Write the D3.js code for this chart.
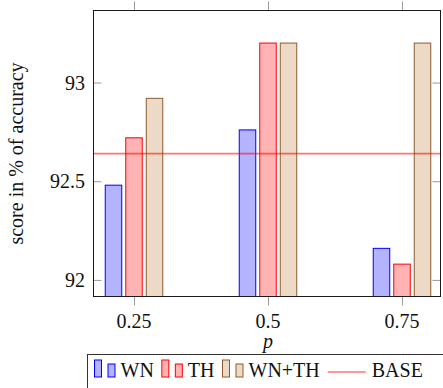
<!DOCTYPE html>
<html>
<head>
<meta charset="utf-8">
<script src="https://cdn.jsdelivr.net/npm/d3@7"></script>
<style>
  body { margin: 0; background: #fff; }
  svg text { font-family: "Liberation Serif", "DejaVu Serif", serif; }
</style>
</head>
<body>
<div id="main"></div>
<script>
// data
const pValues = ["0.25", "0.5", "0.75"];
const seriesNames = ["WN", "TH", "WN+TH"];
const wnScores = [92.48, 92.76, 92.16];
const thScores = [92.72, 93.2, 92.08];
const wnthScores = [92.92, 93.2, 93.2];
const baseScore = 92.64;
const yTicks = [92, 92.5, 93];
const yLimits = [91.916, 93.365];

const ctx = {
    width: 443,
    height: 388,
    plot: {left: 93.5, right: 440.5, top: 10.5, bottom: 296.5},
    inset: {left: 40.5, right: 38.5}
};

const serif = "'Liberation Serif', 'DejaVu Serif', serif";

const colors = {
    "WN":    {fill: "#b3b3ff", stroke: "#0000ff"},
    "TH":    {fill: "#ffb3b3", stroke: "#ff0000"},
    "WN+TH": {fill: "#ecd9c6", stroke: "#8c5a2e"}
};

const seriesValues = [wnScores, thScores, wnthScores];

function label(sel) {
    return sel.style("font-family", serif)
        .style("font-size", "20px")
        .style("fill", "#111");
}

function createViz() {
    const svg = d3.select("#main").append("svg")
        .attr("width", ctx.width)
        .attr("height", ctx.height);

    const p = ctx.plot;

    const x = d3.scalePoint()
        .domain(pValues)
        .range([p.left + ctx.inset.left, p.right - ctx.inset.right]);

    const xs = d3.scaleBand()
        .domain(seriesNames)
        .range([-30.75, 30.75])
        .paddingInner(0.195)
        .paddingOuter(0.0975);

    const y = d3.scaleLinear()
        .domain(yLimits)
        .range([p.bottom, p.top]);

    // bars
    const rows = [];
    seriesNames.forEach((s, i) => {
        pValues.forEach((pv, j) => {
            rows.push({series: s, p: pv, value: seriesValues[i][j]});
        });
    });

    svg.append("g").selectAll("rect")
        .data(rows)
        .enter()
        .append("rect")
        .attr("x", d => x(d.p) + xs(d.series))
        .attr("y", d => y(d.value))
        .attr("width", xs.bandwidth())
        .attr("height", d => p.bottom - y(d.value))
        .style("fill", d => colors[d.series].fill)
        .style("stroke", d => colors[d.series].stroke)
        .style("stroke-width", 1);

    // baseline
    svg.append("line")
        .attr("x1", p.left).attr("x2", p.right)
        .attr("y1", y(baseScore)).attr("y2", y(baseScore))
        .style("stroke", "#ff0000")
        .style("stroke-opacity", 0.55)
        .style("stroke-width", 1.8);

    // ticks
    const tickColor = "#9a9a9a";
    const gxb = svg.append("g")
        .attr("transform", `translate(0,${p.bottom})`)
        .call(d3.axisBottom(x).tickSize(9));
    const gxt = svg.append("g")
        .attr("transform", `translate(0,${p.top})`)
        .call(d3.axisTop(x).tickSize(9).tickFormat(""));
    const gyl = svg.append("g")
        .attr("transform", `translate(${p.left},0)`)
        .call(d3.axisRight(y).tickValues(yTicks).tickSize(8).tickFormat(""));
    const gyr = svg.append("g")
        .attr("transform", `translate(${p.right},0)`)
        .call(d3.axisLeft(y).tickValues(yTicks).tickSize(8).tickFormat(""));

    [gxb, gxt, gyl, gyr].forEach(g => {
        g.attr("font-family", null);
        g.select(".domain").remove();
        g.selectAll(".tick line").style("stroke", tickColor).style("stroke-width", 1);
        g.selectAll(".tick text").remove();
    });

    label(svg.append("g").selectAll("text")
        .data(pValues)
        .enter()
        .append("text")
        .attr("x", d => x(d))
        .attr("y", p.bottom + 31)
        .attr("text-anchor", "middle")
        .text(d => d));

    label(svg.append("g").selectAll("text")
        .data(yTicks)
        .enter()
        .append("text")
        .attr("x", 85)
        .attr("y", d => y(d) + 7)
        .attr("text-anchor", "end")
        .text(d => d));

    // frame
    svg.append("rect")
        .attr("x", p.left).attr("y", p.top)
        .attr("width", p.right - p.left)
        .attr("height", p.bottom - p.top)
        .style("fill", "none")
        .style("stroke", "#1a1a1a")
        .style("stroke-width", 1);

    // axis labels
    label(svg.append("text")
        .attr("x", x("0.5"))
        .attr("y", 348)
        .attr("text-anchor", "middle")
        .style("font-style", "italic")
        .text("p"));

    label(svg.append("text")
        .attr("transform", `translate(23,${(p.top + p.bottom) / 2}) rotate(-90)`)
        .attr("text-anchor", "middle")
        .text("score in % of accuracy"));

    // legend
    const lg = svg.append("g");
    lg.append("rect")
        .attr("x", 87.5).attr("y", 354.5)
        .attr("width", 400).attr("height", 60)
        .style("fill", "#fff")
        .style("stroke", "#333")
        .style("stroke-width", 1);

    let cx = 94.5;
    const base = 377;
    seriesNames.forEach(s => {
        lg.append("rect")
            .attr("x", cx).attr("y", base - 17)
            .attr("width", 7).attr("height", 17)
            .style("fill", colors[s].fill).style("stroke", colors[s].stroke);
        lg.append("rect")
            .attr("x", cx + 13.5).attr("y", base - 13)
            .attr("width", 7).attr("height", 13)
            .style("fill", colors[s].fill).style("stroke", colors[s].stroke);
        const t = label(lg.append("text")
            .attr("x", cx + 26)
            .attr("y", base)
            .text(s));
        cx += 26 + t.node().getComputedTextLength() + 8;
    });
    lg.append("line")
        .attr("x1", cx).attr("x2", cx + 38)
        .attr("y1", base - 5).attr("y2", base - 5)
        .style("stroke", "#ff0000")
        .style("stroke-opacity", 0.8)
        .style("stroke-width", 1.2);
    label(lg.append("text")
        .attr("x", cx + 44)
        .attr("y", base)
        .text("BASE"));
}

createViz();
</script>
</body>
</html>
